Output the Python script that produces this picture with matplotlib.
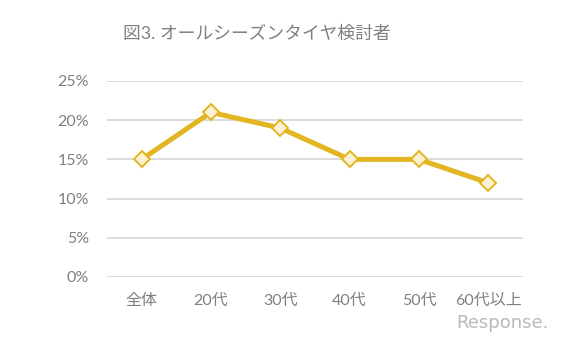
import matplotlib.pyplot as plt
import numpy as np

plt.rcParams['font.family'] = ['Lato', 'Noto Sans CJK JP', 'DejaVu Sans']

categories = ['全体', '20代', '30代', '40代', '50代', '60代以上']
values = [15, 21, 19, 15, 15, 12]
yticks = [0, 5, 10, 15, 20, 25]
title = '図3. オールシーズンタイヤ検討者'

gold = '#E3B522'
grey = '#808080'

fig = plt.figure(figsize=(5.63, 3.40), dpi=100)
ax = fig.add_axes([0.190, 0.1853, 0.739, 0.5765])

x = np.arange(len(categories))
ax.plot(x, values, color=gold, lw=3.6, marker='D', markersize=8,
        markerfacecolor='#FCF1D2', markeredgecolor=gold, markeredgewidth=1.4,
        solid_joinstyle='miter', zorder=3)

ax.set_xlim(-0.5, len(categories) - 0.5)
ax.set_ylim(0, 25)
ax.set_yticks(yticks)
ax.set_yticklabels([f'{v}%' for v in yticks])
ax.set_xticks(x)
ax.set_xticklabels(categories)
ax.yaxis.grid(True, color='#D9D9D9', lw=1.3)
ax.set_axisbelow(True)
for s in ax.spines.values():
    s.set_visible(False)
ax.tick_params(length=0, colors=grey, labelsize=11.5)
ax.tick_params(axis='y', pad=13)
ax.tick_params(axis='x', pad=12)

fig.text(0.218, 0.9, title, color=grey, fontsize=12.8, ha='left', va='center')

# watermark
fig.text(0.975, 0.05, 'Response.', color='#A8A8A8', fontsize=13, ha='right',
         va='center', family='DejaVu Sans', alpha=0.8)

fig.savefig('out.png', dpi=100)
